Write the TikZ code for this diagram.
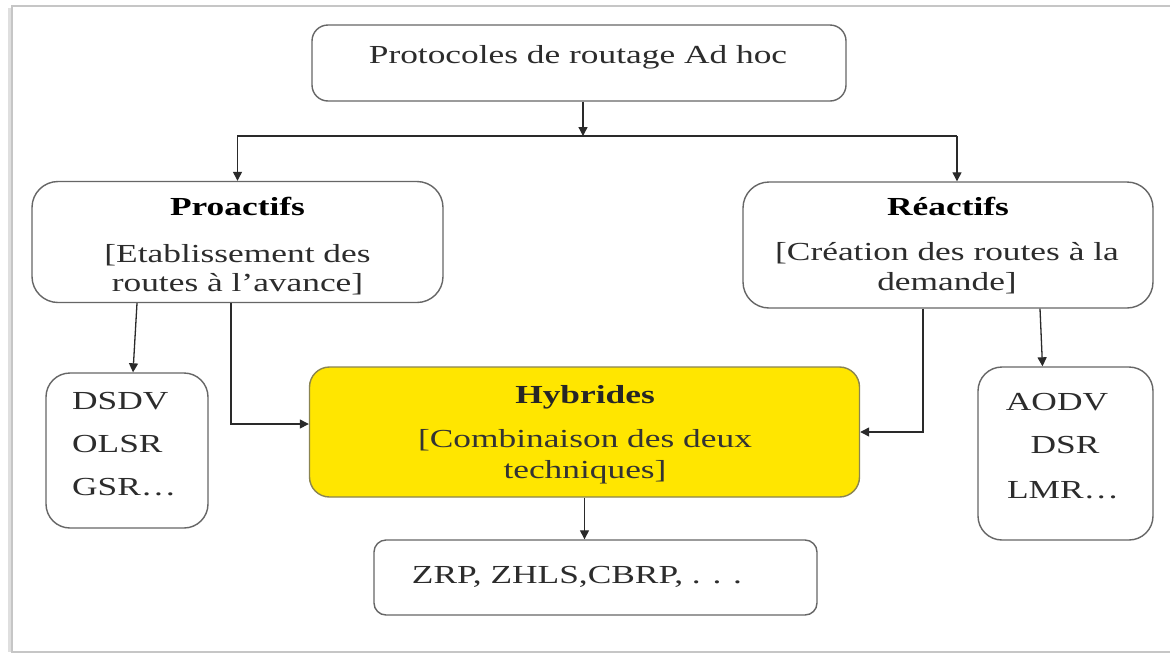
\documentclass[tikz,border=0pt]{standalone}
\usepackage{fontspec}
\setmainfont{Liberation Serif}[FakeStretch=1.36]
\usetikzlibrary{arrows.meta,calc}
\definecolor{boxline}{HTML}{666666}
\definecolor{wire}{HTML}{2A2A2A}
\definecolor{ink}{HTML}{2C2C2C}
\definecolor{hybfill}{RGB}{255,230,0}
\definecolor{hybline}{HTML}{8A8450}
\tikzset{
  box/.style={draw=boxline, line width=1.4pt, fill=white, inner sep=0pt},
  txt/.style={anchor=base, inner sep=0pt, text=ink, font=\fontsize{26}{30}\selectfont},
  head/.style={txt, text=black, font=\fontsize{26}{30}\selectfont\bfseries},
  arr/.style={draw=wire, line width=1.3pt, -{Triangle[length=9pt,width=9pt]}},
  wireline/.style={draw=wire, line width=1.3pt}
}
\begin{document}
\begin{tikzpicture}[x=1pt,y=-1pt]
\useasboundingbox (0,0) rectangle (1170,654);
\fill[white] (0,0) rectangle (1170,654);
% page frame with a soft shadow on the left
\draw[gray!25, line width=3pt] (9,8) -- (9,652);
\draw[gray!45, line width=1.2pt] (1172,6) -| (12,652) -- (1172,652);

% boxes
\node[box, rounded corners=16pt, minimum width=534pt, minimum height=76pt] (top) at (579,63) {};
\node[box, rounded corners=26pt, minimum width=411pt, minimum height=121pt] (pro) at (237.5,242) {};
\node[box, rounded corners=26pt, minimum width=410pt, minimum height=126pt] (rea) at (948,245) {};
\node[box, rounded corners=24pt, minimum width=162pt, minimum height=155pt] (dsdv) at (127,450.5) {};
\node[box, rounded corners=24pt, minimum width=175pt, minimum height=173pt] (aodv) at (1065.5,453.5) {};
\node[box, draw=hybline, fill=hybfill, rounded corners=20pt, minimum width=550pt, minimum height=130pt] (hyb) at (584.5,432) {};
\node[box, rounded corners=12pt, minimum width=443pt, minimum height=75pt] (zrp) at (595.5,577.5) {};

% texts
\node[txt] (ttop) at (578,63) {Protocoles de routage Ad hoc};
\node[head] (tpro) at (237.5,215) {Proactifs};
\node[txt] (tpro1) at (237.5,262) {[Etablissement des};
\node[txt] (tpro2) at (237.5,291) {routes à l’avance]};
\node[head] (trea) at (948,215) {Réactifs};
\node[txt] (trea1) at (947,260) {[Création des routes à la};
\node[txt] (trea2) at (947,290) {demande]};
\node[head, text=black!85] (thyb) at (585,403) {Hybrides};
\node[txt, text=black!80] (thyb1) at (585,447) {[Combinaison des deux};
\node[txt, text=black!80] (thyb2) at (585,478) {techniques]};
\node[txt] (tzrp) at (577,583) {ZRP, ZHLS,CBRP, . . .};
\node[txt, anchor=base west] (td1) at (72,409) {DSDV};
\node[txt, anchor=base west] (td2) at (72,452) {OLSR};
\node[txt, anchor=base west] (td3) at (72,495) {GSR…};
\node[txt] (ta1) at (1057,410) {AODV};
\node[txt] (ta2) at (1065,453) {DSR};
\node[txt] (ta3) at (1063,498) {LMR…};

% connectors
\coordinate (split) at (583,136);
\draw[arr] (split |- top.south) -- (split);
\draw[arr] (split) -| (pro.north);
\draw[wireline] (split) -- (957,136);
\draw[arr] (957,136) -- (rea.north -| 957,0);
\draw[arr] ($(pro.south)+(-100.5,0)$) -- ($(dsdv.north)+(6,0)$);
\draw[arr] ($(pro.south)+(-6.5,0)$) |- ($(hyb.west)+(0,-8)$);
\draw[arr] ($(rea.south)+(-25,0)$) |- (hyb.east);
\draw[arr] ($(rea.south)+(92,0)$) -- ($(aodv.north)+(-23,0)$);
\draw[arr] (hyb.south) -- (hyb.south |- zrp.north);
\end{tikzpicture}
\end{document}
